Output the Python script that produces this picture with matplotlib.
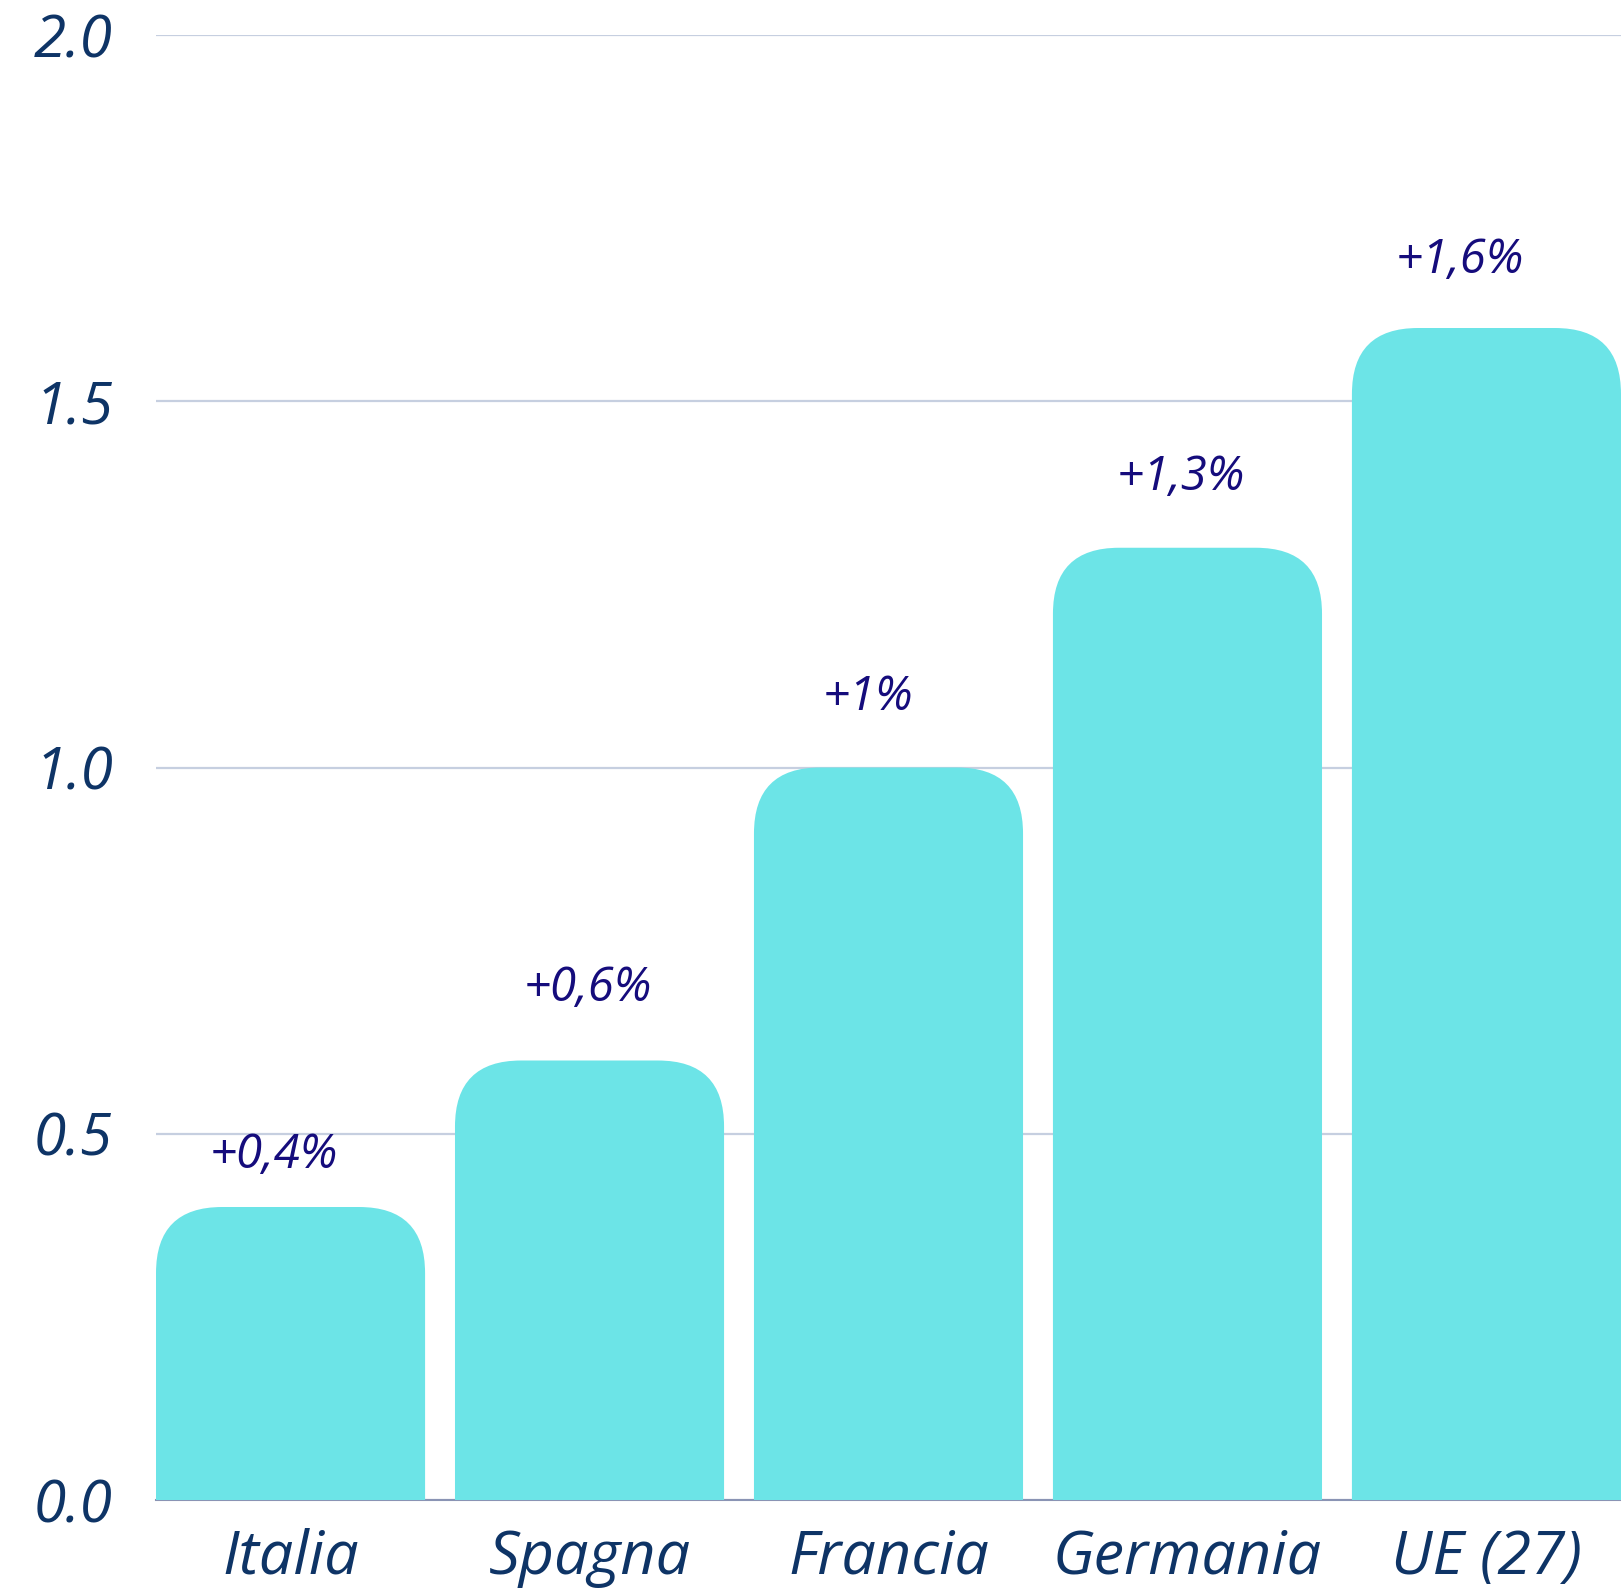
import matplotlib
matplotlib.use("Agg")
import matplotlib.pyplot as plt
from matplotlib.patches import FancyBboxPatch

# Data
countries = ["Italia", "Spagna", "Francia", "Germania", "UE (27)"]
growth = [0.4, 0.6, 1.0, 1.3, 1.6]
value_labels = ["+0,4%", "+0,6%", "+1%", "+1,3%", "+1,6%"]
yticks = [0.0, 0.5, 1.0, 1.5, 2.0]

# label nudges in pixels (x, y above bar top)
label_dx = [-17, -2, -21, -7, -27]
label_dy = [52, 72, 70, 70, 68]

bar_color = "#6ce4e7"
tick_color = "#0e3466"
label_color = "#150c7c"
grid_color = "#c6cfe0"

plt.rcParams['font.family'] = ['Open Sans', 'DejaVu Sans']

fig = plt.figure(figsize=(16.21, 15.89), dpi=100)
ax = fig.add_axes([156 / 1621, 89 / 1589, 1 - 156 / 1621, (1500 - 35) / 1589])

width = 0.9
ax.set_xlim(-0.45, len(countries) - 0.55)
ax.set_ylim(0, 2.0)

# rounded top corners: radius in x units, aspect keeps them circular
x_px = 1465 / 4.9
y_px = 1465 / 2.0
r_px = 66
radius = r_px / x_px
aspect = (r_px / y_px) / radius

bars = ax.bar(range(len(countries)), growth, width=width, color=bar_color)
for b in bars:
    b.set_visible(False)
    x0, w, h = b.get_x(), b.get_width(), b.get_height()
    patch = FancyBboxPatch((x0, -0.2), w, h + 0.2,
                           boxstyle=f"round,pad=0,rounding_size={radius}",
                           mutation_aspect=aspect, facecolor=bar_color,
                           edgecolor="none", zorder=3)
    ax.add_patch(patch)

for i, (v, t) in enumerate(zip(growth, value_labels)):
    ax.annotate(t, (i, v), xytext=(label_dx[i], label_dy[i]),
                textcoords="offset pixels", ha="center", va="center",
                fontsize=34, style="italic", color=label_color)

ax.set_yticks(yticks)
ax.set_yticklabels([f"{t:.1f}" for t in yticks])
ax.set_xticks(range(len(countries)))
ax.set_xticklabels(countries)
ax.tick_params(axis="both", length=0, colors=tick_color)
ax.tick_params(axis="y", pad=31, labelsize=42)
ax.tick_params(axis="x", pad=20, labelsize=44)
for lab in ax.get_xticklabels() + ax.get_yticklabels():
    lab.set_style("italic")

ax.grid(axis="y", color=grid_color, linewidth=1.6, zorder=0)
ax.set_axisbelow(True)
for s in ["top", "right", "left"]:
    ax.spines[s].set_visible(False)
ax.spines["bottom"].set_color("#8a94b4")
ax.spines["bottom"].set_linewidth(1.5)
ax.spines["bottom"].set_zorder(1)

fig.savefig("out.png", dpi=100)
